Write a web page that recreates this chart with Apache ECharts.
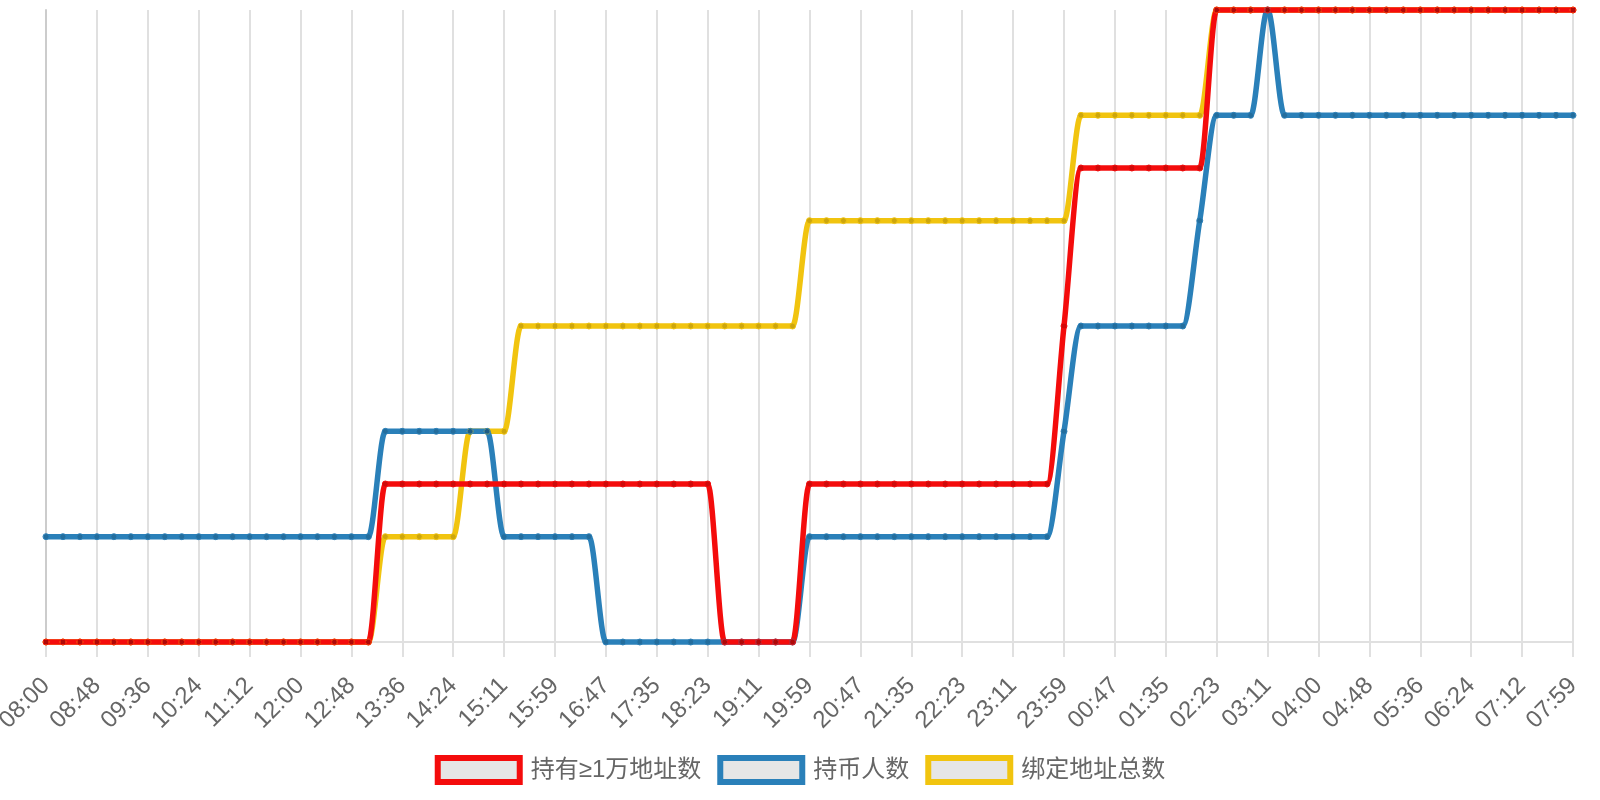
<!DOCTYPE html>
<html>
<head>
<meta charset="utf-8">
<script src="https://cdn.jsdelivr.net/npm/echarts@6/dist/echarts.min.js"></script>
<style>
html,body{margin:0;padding:0;background:#fff;}
#chart{width:1600px;height:800px;}
</style>
</head>
<body>
<div id="chart"></div>
<script>
const categories = [
  '08:00','08:16','08:32','08:48','09:04','09:20','09:36','09:52','10:08','10:24','10:40','10:56',
  '11:12','11:28','11:44','12:00','12:16','12:32','12:48','13:04','13:20','13:36','13:52','14:08',
  '14:24','14:39','14:55','15:11','15:27','15:43','15:59','16:15','16:31','16:47','17:03','17:19',
  '17:35','17:51','18:07','18:23','18:39','18:55','19:11','19:27','19:43','19:59','20:15','20:31',
  '20:47','21:03','21:19','21:35','21:51','22:07','22:23','22:39','22:55','23:11','23:27','23:43',
  '23:59','00:15','00:31','00:47','01:03','01:19','01:35','01:51','02:07','02:23','02:39','02:55',
  '03:11','03:27','03:44','04:00','04:16','04:32','04:48','05:04','05:20','05:36','05:52','06:08',
  '06:24','06:40','06:56','07:12','07:28','07:44','07:59'
];

const seriesNames = ['持有≥1万地址数', '持币人数', '绑定地址总数'];

const holders10k = [
  0,0,0,0,0,0,0,0,0,0,0,0,0,0,0,0,0,0,0,0,
  3,3,3,3,3,3,3,3,3,3,3,3,3,3,3,3,3,3,3,3,
  0,0,0,0,0,
  3,3,3,3,3,3,3,3,3,3,3,3,3,3,3,
  6,
  9,9,9,9,9,9,9,9,
  12,12,12,12,12,12,12,12,12,12,12,12,12,12,12,12,12,12,12,12,12,12
];

const holders = [
  2,2,2,2,2,2,2,2,2,2,2,2,2,2,2,2,2,2,2,2,
  4,4,4,4,4,4,4,
  2,2,2,2,2,2,
  0,0,0,0,0,0,0,0,0,0,0,0,
  2,2,2,2,2,2,2,2,2,2,2,2,2,2,2,
  4,
  6,6,6,6,6,6,6,
  8,
  10,10,10,
  12,
  10,10,10,10,10,10,10,10,10,10,10,10,10,10,10,10,10,10
];

const boundAddresses = [
  0,0,0,0,0,0,0,0,0,0,0,0,0,0,0,0,0,0,0,0,
  2,2,2,2,2,
  4,4,4,
  6,6,6,6,6,6,6,6,6,6,6,6,6,6,6,6,6,
  8,8,8,8,8,8,8,8,8,8,8,8,8,8,8,8,
  10,10,10,10,10,10,10,10,
  12,12,12,12,12,12,12,12,12,12,12,12,12,12,12,12,12,12,12,12,12,12
];

const colors = ['#f40c0c', '#2a80b9', '#f1c40f'];
const FONT = '"Liberation Sans", Arial, "Noto Sans CJK SC", sans-serif';

// monotone cubic (Fritsch-Carlson) tangents in value-per-index units
function monotoneTangents(vals) {
  const n = vals.length, d = [], m = [];
  for (let i = 0; i < n - 1; i++) d.push(vals[i + 1] - vals[i]);
  for (let i = 0; i < n; i++) {
    if (i === 0) m.push(d[0]);
    else if (i === n - 1) m.push(d[n - 2]);
    else m.push(d[i - 1] * d[i] <= 0 ? 0 : (d[i - 1] + d[i]) / 2);
  }
  for (let i = 0; i < n - 1; i++) {
    if (d[i] === 0) { m[i] = 0; m[i + 1] = 0; continue; }
    const a = m[i] / d[i], b = m[i + 1] / d[i], s = a * a + b * b;
    if (s <= 9) continue;
    const t = 3 / Math.sqrt(s);
    m[i] = a * t * d[i]; m[i + 1] = b * t * d[i];
  }
  return m;
}

function mkSeries(idx, vals) {
  const tang = monotoneTangents(vals);
  const n = vals.length;
  const color = colors[idx];
  return {
    name: seriesNames[idx],
    type: 'custom',
    coordinateSystem: 'cartesian2d',
    data: vals.map((v, i) => [i, v]),
    encode: { x: 0, y: 1 },
    itemStyle: { color: color },
    silent: true,
    renderItem: function (params, api) {
      const i = params.dataIndex;
      const p0 = api.coord([i, vals[i]]);
      const unitY = api.coord([i, 0])[1] - api.coord([i, 1])[1];
      const children = [];
      if (i < n - 1) {
        const p1 = api.coord([i + 1, vals[i + 1]]);
        const dx = (p1[0] - p0[0]) / 3;
        children.push({
          type: 'bezierCurve',
          z2: 0,
          shape: {
            x1: p0[0], y1: p0[1], x2: p1[0], y2: p1[1],
            cpx1: p0[0] + dx, cpy1: p0[1] - tang[i] * unitY / 3,
            cpx2: p1[0] - dx, cpy2: p1[1] + tang[i + 1] * unitY / 3
          },
          style: { stroke: color, lineWidth: 5.5, fill: null, lineCap: 'round', lineJoin: 'round' }
        });
      }
      children.push({
        type: 'circle',
        z2: 1,
        shape: { cx: p0[0], cy: p0[1], r: 3 },
        style: { fill: 'rgba(0,0,0,0.15)', stroke: color, lineWidth: 1 }
      });
      return { type: 'group', children: children };
    }
  };
}

const chart = echarts.init(document.getElementById('chart'), null, {renderer: 'canvas'});
chart.setOption({
  animation: false,
  backgroundColor: '#fff',
  grid: { left: 46, right: 27, top: 10, bottom: 158, containLabel: false, outerBoundsMode: 'none' },
  legend: {
    left: 'center',
    top: 750,
    icon: 'rect',
    itemWidth: 82,
    itemHeight: 24,
    itemGap: 16,
    textStyle: { fontSize: 24, color: '#666', fontFamily: FONT, padding: [0, 0, 0, 6] },
    data: seriesNames.map((n, i) => ({
      name: n,
      itemStyle: { color: '#e6e6e6', borderColor: colors[i], borderWidth: 6 }
    }))
  },
  xAxis: {
    type: 'category',
    boundaryGap: false,
    data: categories,
    axisLine: { show: true, lineStyle: { color: '#e0e0e0', width: 2 } },
    axisTick: { show: true, interval: 2, length: 15, lineStyle: { color: '#e0e0e0', width: 2 } },
    axisLabel: { interval: 2, rotate: 45, margin: 40, fontSize: 24, color: '#666', fontFamily: FONT },
    splitLine: { show: true, interval: 2, lineStyle: { color: '#e0e0e0', width: 2 } }
  },
  yAxis: {
    type: 'value',
    min: 0,
    max: 12,
    interval: 1,
    axisLine: { show: true, lineStyle: { color: '#cccccc', width: 2 } },
    axisTick: { show: false },
    axisLabel: { show: false },
    splitLine: { show: false }
  },
  series: [
    mkSeries(2, boundAddresses),
    mkSeries(1, holders),
    mkSeries(0, holders10k)
  ]
});
</script>
</body>
</html>
